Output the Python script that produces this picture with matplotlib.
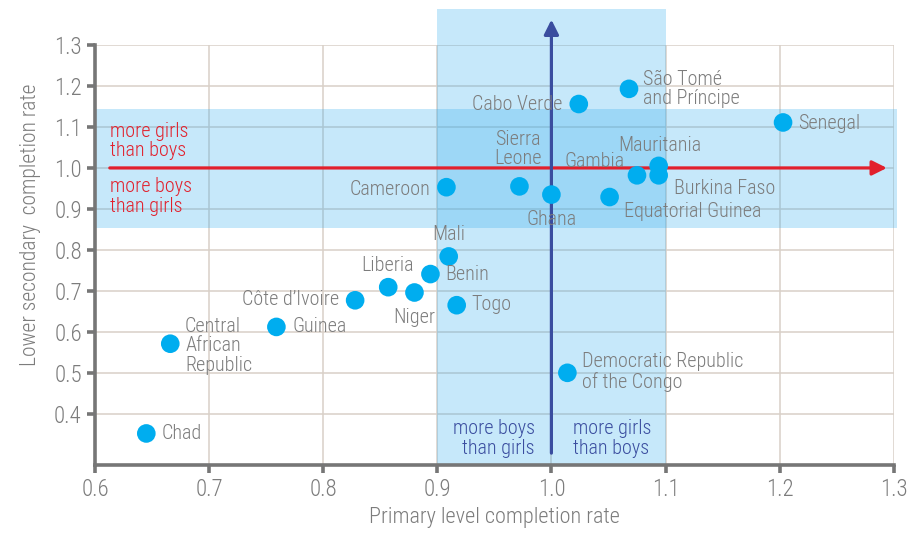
import matplotlib
matplotlib.use("Agg")
import matplotlib.pyplot as plt
from matplotlib.patches import Rectangle

plt.rcParams['font.family'] = ['Roboto Condensed', 'DejaVu Sans']
plt.rcParams['font.weight'] = 'light'
plt.rcParams['axes.labelweight'] = 'light'

countries = ["Chad", "Central African Republic", "Guinea", "Côte d'Ivoire", "Liberia",
             "Niger", "Benin", "Mali", "Togo", "Cameroon", "Sierra Leone", "Ghana",
             "Cabo Verde", "São Tomé and Príncipe", "Gambia", "Mauritania",
             "Burkina Faso", "Equatorial Guinea", "Senegal",
             "Democratic Republic of the Congo"]
primary = [0.645, 0.666, 0.759, 0.828, 0.857, 0.880, 0.894, 0.910, 0.917, 0.908,
           0.972, 1.000, 1.024, 1.068, 1.075, 1.094, 1.094, 1.051, 1.203, 1.014]
lower_sec = [0.352, 0.571, 0.612, 0.677, 0.709, 0.696, 0.741, 0.784, 0.665, 0.953,
             0.955, 0.935, 1.156, 1.193, 0.982, 1.005, 0.982, 0.929, 1.111, 0.500]

labels = ["Chad", "Central\nAfrican\nRepublic", "Guinea", "Côte d\u2019Ivoire", "Liberia",
          "Niger", "Benin", "Mali", "Togo", "Cameroon", "Sierra\nLeone", "Ghana",
          "Cabo Verde", "São Tomé\nand Príncipe", "Gambia", "Mauritania",
          "Burkina Faso", "Equatorial Guinea", "Senegal",
          "Democratic Republic\nof the Congo"]
label_x = [0.658, 0.679, 0.773, 0.814, 0.856, 0.880, 0.907, 0.910, 0.930, 0.894,
           0.971, 1.000, 1.010, 1.080, 1.038, 1.095, 1.107, 1.064, 1.216, 1.027]
label_y = [0.352, 0.566, 0.612, 0.679, 0.761, 0.634, 0.739, 0.837, 0.666, 0.947,
           1.047, 0.874, 1.156, 1.193, 1.015, 1.055, 0.950, 0.893, 1.109, 0.502]
label_ha = ["left", "left", "left", "right", "center", "center", "left", "center", "left",
            "right", "center", "center", "right", "left", "center", "center", "left",
            "left", "left", "left"]

xticks = [0.6, 0.7, 0.8, 0.9, 1.0, 1.1, 1.2, 1.3]
yticks = [0.4, 0.5, 0.6, 0.7, 0.8, 0.9, 1.0, 1.1, 1.2, 1.3]

GRAY = '#7c7c7c'
SPINE = '#767676'
GRID = '#d8d0c8'
PT = '#00adef'
RED = '#e2202c'
BLUE = '#3a4d9f'
BAND = '#34aeee'

fig = plt.figure(figsize=(9.21, 5.34), dpi=100)
ax = fig.add_axes([0.1031, 0.1292, 0.8673, 0.7865])
ax.set_xlim(0.6, 1.3)
ax.set_ylim(0.275, 1.3)

# grid
for xv in xticks[1:]:
    ax.plot([xv, xv], [0.275, 1.3], color=GRID, lw=1.1, zorder=1)
for yv in yticks:
    ax.plot([0.6, 1.3], [yv, yv], color=GRID, lw=1.1, zorder=1)

# bands
ax.add_patch(Rectangle((0.9, 0.275), 0.2, 1.388 - 0.275, facecolor=BAND, alpha=0.28,
                       lw=0, zorder=1.5, clip_on=False))
ax.add_patch(Rectangle((0.6, 0.853), 0.703, 1.145 - 0.853, facecolor=BAND, alpha=0.28,
                       lw=0, zorder=1.5, clip_on=False))

# arrows
ax.annotate('', xy=(1.294, 1.0), xytext=(0.613, 1.0),
            arrowprops=dict(arrowstyle='-|>', color=RED, lw=2.3, mutation_scale=22,
                            shrinkA=0, shrinkB=0), annotation_clip=False, zorder=2)
ax.annotate('', xy=(1.0, 1.362), xytext=(1.0, 0.304),
            arrowprops=dict(arrowstyle='-|>', color=BLUE, lw=2.3, mutation_scale=22,
                            shrinkA=0, shrinkB=0), annotation_clip=False, zorder=2)

ax.scatter(primary, lower_sec, s=180, color=PT, edgecolors='none', zorder=3)

for t, x, y, ha in zip(labels, label_x, label_y, label_ha):
    ax.text(x, y, t, ha=ha, va='center', fontsize=14.5, color=GRAY, linespacing=1.02, zorder=4)

ax.text(0.613, 1.066, "more girls\nthan boys", color=RED, fontsize=14.5, ha='left', va='center', linespacing=1.05)
ax.text(0.613, 0.930, "more boys\nthan girls", color=RED, fontsize=14.5, ha='left', va='center', linespacing=1.05)
ax.text(0.9855, 0.340, "more boys\nthan girls", color=BLUE, fontsize=14.5, ha='right', va='center', linespacing=1.05)
ax.text(1.0185, 0.340, "more girls\nthan boys", color=BLUE, fontsize=14.5, ha='left', va='center', linespacing=1.05)

for s in ['top', 'right']:
    ax.spines[s].set_visible(False)
for s in ['left', 'bottom']:
    ax.spines[s].set_color(SPINE)
    ax.spines[s].set_linewidth(2.6)
ax.set_xticks(xticks)
ax.set_yticks(yticks)
ax.set_xticklabels([f"{v:.1f}" for v in xticks])
ax.set_yticklabels([f"{v:.1f}" for v in yticks])
ax.tick_params(axis='both', colors=SPINE, labelcolor=GRAY, width=2.6, length=6,
               labelsize=16.5)
ax.set_xlabel("Primary level completion rate", fontsize=16, color=GRAY, labelpad=4)
ax.set_ylabel("Lower secondary  completion rate", fontsize=15.5, color=GRAY)
ax.yaxis.set_label_coords(-0.068, 0.573)
ax.set_facecolor('none')

fig.savefig("out.png", dpi=100)
